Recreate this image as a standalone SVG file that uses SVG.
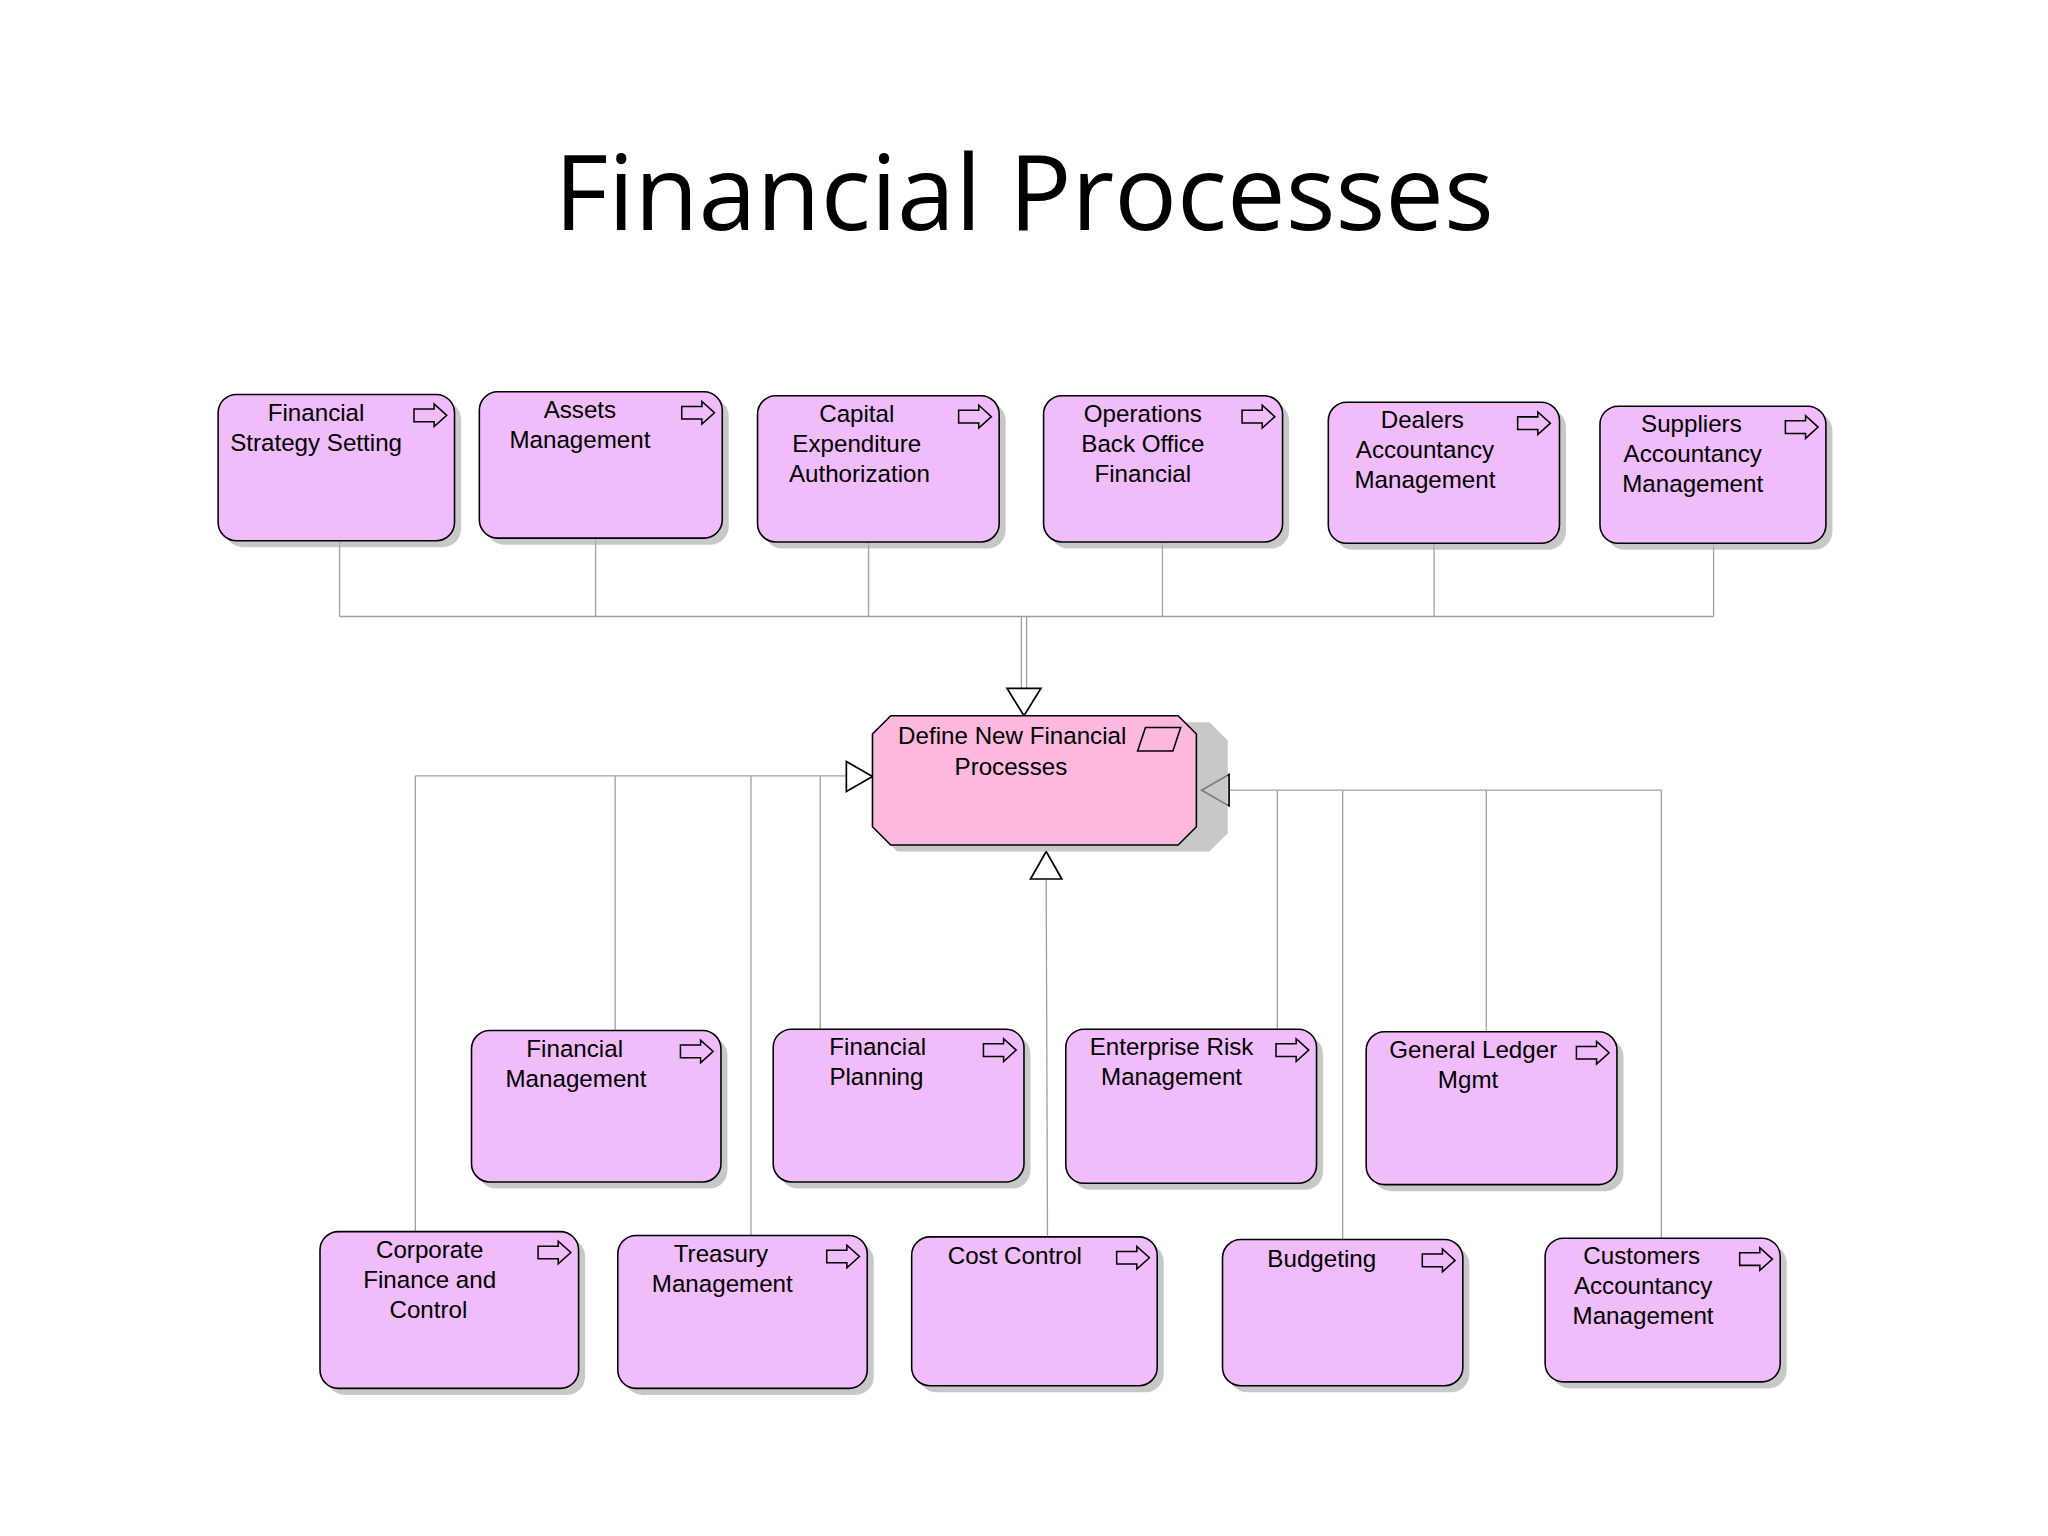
<svg xmlns="http://www.w3.org/2000/svg" width="2048" height="1536" viewBox="0 0 2048 1536">
<defs>
<style>
.n{fill:#f0bcfa;stroke:#000;stroke-width:1.2}
.s{fill:#b0b0b0;opacity:.7}
.t{font-family:"Liberation Sans",Arial,sans-serif;font-size:18.5px;fill:#000;text-anchor:middle}
.ic{fill:none;stroke:#000;stroke-width:1.2}
.c{fill:none;stroke:#a0a0a0;stroke-width:1}
.ah{fill:#fff;stroke:#000;stroke-width:1.3}
</style>
<symbol id="pi" viewBox="0 0 28 18" overflow="visible"><path class="ic" d="M1 4H17V0L27 9L17 18V14H1Z"/></symbol>
</defs>
<rect width="2048" height="1536" fill="#fff"/>
<g transform="scale(1.3061)">
<text x="784" y="176" style="font-family:'Open Sans','Noto Sans',sans-serif;font-size:80px;text-anchor:middle">Financial Processes</text>
<g id="connectors">
<path class="c" d="M260 414V472M456 412V472M665 415V472M890 415V472M1098 416V472M1312 416V472M260 472H1312"/>
<path class="c" d="M782 472V527M786 472V527" stroke="#707070"/>
<path class="ah" d="M771 527H797L784 548Z"/>
<path class="c" d="M318 943V594M471 789V594M575 946V594M628 788V594M318 594H648"/>
<path class="ah" d="M648 583V606L668 594.5Z"/>
<path class="c" d="M978 788V605M1028 949V605M1138 790V605M1272 948V605M940 605H1272"/>
<path class="ah" d="M941 593V617L920 605Z"/>
<path class="c" d="M802 947L801 673"/>
<path class="ah" d="M789 673H813L801 652Z"/>
</g>
<g id="n1"><rect class="s" x="172" y="307" width="181" height="112" rx="14"/><rect class="n" x="167" y="302" width="181" height="112" rx="14"/><use href="#pi" x="316" y="309" width="27" height="18"/><text class="t"><tspan x="242" y="322">Financial</tspan><tspan x="242" y="345">Strategy Setting</tspan></text></g>
<g id="n2"><rect class="s" x="372" y="305" width="186" height="112" rx="14"/><rect class="n" x="367" y="300" width="186" height="112" rx="14"/><use href="#pi" x="521" y="307" width="27" height="18"/><text class="t"><tspan x="444" y="320">Assets</tspan><tspan x="444" y="343">Management</tspan></text></g>
<g id="n3"><rect class="s" x="585" y="308" width="185" height="112" rx="14"/><rect class="n" x="580" y="303" width="185" height="112" rx="14"/><use href="#pi" x="733" y="310" width="27" height="18"/><text class="t"><tspan x="656" y="323">Capital</tspan><tspan x="656" y="346">Expenditure</tspan><tspan x="658" y="369">Authorization</tspan></text></g>
<g id="n4"><rect class="s" x="804" y="308" width="183" height="112" rx="14"/><rect class="n" x="799" y="303" width="183" height="112" rx="14"/><use href="#pi" x="950" y="310" width="27" height="18"/><text class="t"><tspan x="875" y="323">Operations</tspan><tspan x="875" y="346">Back Office</tspan><tspan x="875" y="369">Financial</tspan></text></g>
<g id="n5"><rect class="s" x="1022" y="313" width="177" height="108" rx="14"/><rect class="n" x="1017" y="308" width="177" height="108" rx="14"/><use href="#pi" x="1161" y="315" width="27" height="18"/><text class="t"><tspan x="1089" y="328">Dealers</tspan><tspan x="1091" y="351">Accountancy</tspan><tspan x="1091" y="374">Management</tspan></text></g>
<g id="n6"><rect class="s" x="1230" y="316" width="173" height="105" rx="14"/><rect class="n" x="1225" y="311" width="173" height="105" rx="14"/><use href="#pi" x="1366" y="318" width="27" height="18"/><text class="t"><tspan x="1295" y="331">Suppliers</tspan><tspan x="1296" y="354">Accountancy</tspan><tspan x="1296" y="377">Management</tspan></text></g>
<g id="center"><path d="M687 553H926L940 567V638L926 652H687L673 638V567Z" fill="#b0b0b0" opacity=".7"/><path d="M682 548H902L916 562V633L902 647H682L668 633V562Z" fill="#fcb9dd" stroke="#000" stroke-width="1.2"/><path class="ic" d="M877 557H904L898 575H871Z"/><text class="t"><tspan x="775" y="570">Define New Financial</tspan><tspan x="774" y="593">Processes</tspan></text></g>
<g id="n7"><rect class="s" x="366" y="794" width="191" height="116" rx="14"/><rect class="n" x="361" y="789" width="191" height="116" rx="14"/><use href="#pi" x="520" y="796" width="27" height="18"/><text class="t"><tspan x="440" y="809">Financial</tspan><tspan x="441" y="832">Management</tspan></text></g>
<g id="n8"><rect class="s" x="597" y="793" width="192" height="117" rx="14"/><rect class="n" x="592" y="788" width="192" height="117" rx="14"/><use href="#pi" x="752" y="795" width="27" height="18"/><text class="t"><tspan x="672" y="808">Financial</tspan><tspan x="671" y="831">Planning</tspan></text></g>
<g id="n9"><rect class="s" x="821" y="793" width="192" height="118" rx="14"/><rect class="n" x="816" y="788" width="192" height="118" rx="14"/><use href="#pi" x="976" y="795" width="27" height="18"/><text class="t"><tspan x="897" y="808">Enterprise Risk</tspan><tspan x="897" y="831">Management</tspan></text></g>
<g id="n10"><rect class="s" x="1051" y="795" width="192" height="117" rx="14"/><rect class="n" x="1046" y="790" width="192" height="117" rx="14"/><use href="#pi" x="1206" y="797" width="27" height="18"/><text class="t"><tspan x="1128" y="810">General Ledger</tspan><tspan x="1124" y="833">Mgmt</tspan></text></g>
<g id="n11"><rect class="s" x="250" y="948" width="198" height="120" rx="14"/><rect class="n" x="245" y="943" width="198" height="120" rx="14"/><use href="#pi" x="411" y="950" width="27" height="18"/><text class="t"><tspan x="329" y="963">Corporate</tspan><tspan x="329" y="986">Finance and</tspan><tspan x="328" y="1009">Control</tspan></text></g>
<g id="n12"><rect class="s" x="478" y="951" width="191" height="117" rx="14"/><rect class="n" x="473" y="946" width="191" height="117" rx="14"/><use href="#pi" x="632" y="953" width="27" height="18"/><text class="t"><tspan x="552" y="966">Treasury</tspan><tspan x="553" y="989">Management</tspan></text></g>
<g id="n13"><rect class="s" x="703" y="952" width="188" height="114" rx="14"/><rect class="n" x="698" y="947" width="188" height="114" rx="14"/><use href="#pi" x="854" y="954" width="27" height="18"/><text class="t"><tspan x="777" y="968">Cost Control</tspan></text></g>
<g id="n14"><rect class="s" x="941" y="954" width="184" height="112" rx="14"/><rect class="n" x="936" y="949" width="184" height="112" rx="14"/><use href="#pi" x="1088" y="956" width="27" height="18"/><text class="t"><tspan x="1012" y="970">Budgeting</tspan></text></g>
<g id="n15"><rect class="s" x="1188" y="953" width="180" height="110" rx="14"/><rect class="n" x="1183" y="948" width="180" height="110" rx="14"/><use href="#pi" x="1331" y="955" width="27" height="18"/><text class="t"><tspan x="1257" y="968">Customers</tspan><tspan x="1258" y="991">Accountancy</tspan><tspan x="1258" y="1014">Management</tspan></text></g>
</g>
</svg>
